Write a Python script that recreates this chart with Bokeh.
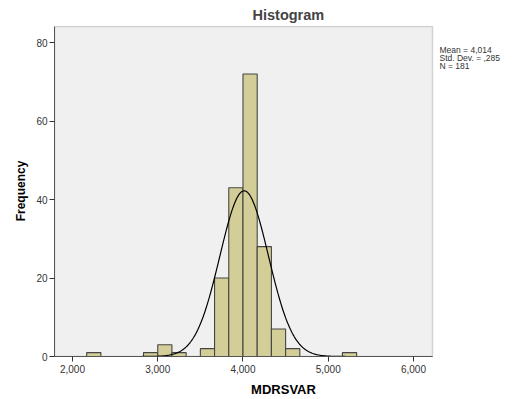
import numpy as np
from bokeh.plotting import figure
from bokeh.models import Range1d, FixedTicker, Label, BoxAnnotation
from bokeh.embed import file_html
from bokeh.resources import INLINE

# ---- data ----
bin_lefts = [2.1667, 2.8333, 3.0, 3.1667, 3.5, 3.6667, 3.8333, 4.0, 4.1667, 4.3333, 4.5, 5.1667]
counts = [1, 1, 3, 1, 2, 20, 43, 72, 28, 7, 2, 1]
bin_width = 1 / 6
mean_val = 4.014
std_val = 0.285
n_val = 181
x_ticks = [2, 3, 4, 5, 6]
x_tick_labels = ["2,000", "3,000", "4,000", "5,000", "6,000"]
y_ticks = [0, 20, 40, 60, 80]
stats_lines = ["Mean = 4,014", "Std. Dev. = ,285", "N = 181"]

FONT = "Liberation Sans"

# plotted area (gray box) in data units
X0, X1 = 1.789, 6.223
Y0, Y1 = 0, 84.1
PX_PER_X = 85.25          # pixels per data unit along x
PX_PER_Y = 3.925          # pixels per count along y
W, H = 512, 399
LEFT, TOP, BOTTOM = 54, 25, 42
frame_w = W - LEFT
x_end = X0 + frame_w / PX_PER_X
y_end = Y1 + 1 / PX_PER_Y

p = figure(width=W, height=H, output_backend="svg", toolbar_location=None,
           x_range=Range1d(X0, x_end), y_range=Range1d(Y0, y_end),
           min_border_left=LEFT, min_border_right=0, min_border_top=TOP,
           min_border_bottom=BOTTOM, title="Histogram")

p.background_fill_color = "white"
p.border_fill_color = "white"
p.outline_line_color = None
p.xgrid.visible = False
p.ygrid.visible = False

# gray plot area with its border
p.add_layout(BoxAnnotation(left=X0, right=X1, bottom=Y0, top=Y1, level="underlay",
                           fill_color="#F0F0F0", fill_alpha=1,
                           line_color="#7a7a7a", line_width=1.5))

p.title.text_font = FONT
p.title.text_font_size = "14.5px"
p.title.text_font_style = "bold"
p.title.align = "left"
p.title.offset = 198
p.title.standoff = 6

# bars
lefts = np.array(bin_lefts)
p.quad(left=lefts, right=lefts + bin_width, bottom=0, top=counts,
       fill_color="#D3CE97", line_color="#454545", line_width=1.1)

# fitted normal curve from the stated mean / sd / N
xs = np.linspace(X0, X1, 400)
ys = n_val * bin_width * np.exp(-0.5 * ((xs - mean_val) / std_val) ** 2) / (std_val * np.sqrt(2 * np.pi))
p.line(xs, ys, line_color="black", line_width=1.2)

# axes
for ax in (p.xaxis[0], p.yaxis[0]):
    ax.minor_tick_line_color = None
    ax.major_tick_in = 0
    ax.major_tick_out = 5
    ax.major_tick_line_color = "#333333"
    ax.axis_line_color = "#555555"
    ax.major_label_text_font = FONT
    ax.major_label_text_font_size = "10px"
    ax.major_label_text_color = "#333333"
    ax.axis_label_text_font = FONT
    ax.axis_label_text_font_style = "bold"
    ax.axis_label_text_color = "black"

p.xaxis.ticker = FixedTicker(ticks=x_ticks)
p.xaxis.bounds = (X0, X1)
p.xaxis.major_label_overrides = {t: l for t, l in zip(x_ticks, x_tick_labels)}
p.xaxis.axis_label = "MDRSVAR"
p.xaxis.axis_label_text_font_size = "13px"
p.xaxis.major_label_standoff = 3
p.xaxis.axis_label_standoff = 6

p.yaxis.ticker = FixedTicker(ticks=y_ticks)
p.yaxis.bounds = (Y0, Y1)
p.yaxis.axis_label = "Frequency"
p.yaxis.axis_label_text_font_size = "12px"
p.yaxis.major_label_standoff = 2
p.yaxis.axis_label_standoff = 5

# stats text to the right of the gray area
stats_x = X1 + 7 / PX_PER_X
for i, line in enumerate(stats_lines):
    p.add_layout(Label(x=stats_x, y=78.0 - i * 2.0, text=line, text_font=FONT,
                       text_font_size="8.5px", text_color="#333333",
                       text_baseline="alphabetic"))

open("out.html", "w").write(file_html(p, INLINE))
